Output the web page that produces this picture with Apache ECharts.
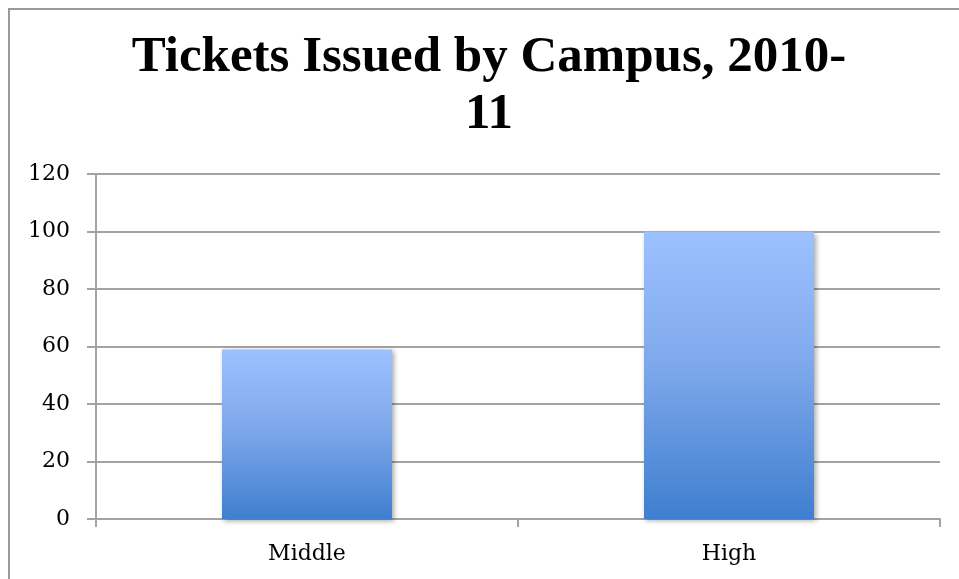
<!DOCTYPE html>
<html><head><meta charset="utf-8">
<script src="https://cdn.jsdelivr.net/npm/echarts@6/dist/echarts.min.js"></script>
<style>html,body{margin:0;padding:0;background:#fff}#c{width:959px;height:579px}</style>
</head><body><div id="c"></div>
<script>
const categories = ["Middle", "High"];
const tickets = [59, 100];
const titleText = "Tickets Issued by Campus, 2010-\n11";

const chart = echarts.init(document.getElementById('c'), null, {renderer: 'canvas'});
const gridColor = '#a3a3a3';
chart.setOption({
  animation: false,
  backgroundColor: '#fff',
  graphic: [{
    type: 'rect', silent: true,
    shape: {x: 9, y: 9, width: 1000, height: 620},
    style: {fill: 'none', stroke: '#9a9a9a', lineWidth: 2}
  }],
  title: {
    text: titleText,
    left: 489, top: 29, padding: 0, textAlign: 'center',
    textStyle: {fontFamily: 'Liberation Serif', fontWeight: 'bold', fontSize: 51, lineHeight: 57, color: '#000'}
  },
  grid: {left: 96, right: 19, top: 174, bottom: 60, containLabel: false},
  xAxis: {
    type: 'category', data: categories,
    axisLine: {lineStyle: {color: gridColor, width: 2}},
    axisTick: {show: true, length: 8, lineStyle: {color: gridColor, width: 2}},
    axisLabel: {fontFamily: 'DejaVu Serif', fontSize: 22, color: '#000', margin: 24}
  },
  yAxis: {
    type: 'value', min: 0, max: 120, interval: 20,
    axisLine: {show: true, lineStyle: {color: gridColor, width: 2}},
    axisTick: {show: true, length: 9, lineStyle: {color: gridColor, width: 2}},
    splitLine: {lineStyle: {color: gridColor, width: 2}},
    axisLabel: {fontFamily: 'DejaVu Serif', fontSize: 22, color: '#000', margin: 26}
  },
  series: [{
    type: 'bar', data: tickets, barWidth: 170,
    itemStyle: {
      color: new echarts.graphic.LinearGradient(0, 0, 0, 1, [
        {offset: 0, color: '#9cc1ff'},
        {offset: 0.45, color: '#80a9ec'},
        {offset: 1, color: '#3f7fcf'}
      ]),
      shadowColor: 'rgba(0,0,0,0.35)', shadowBlur: 5, shadowOffsetX: 2, shadowOffsetY: 2
    }
  }]
});
</script></body></html>
